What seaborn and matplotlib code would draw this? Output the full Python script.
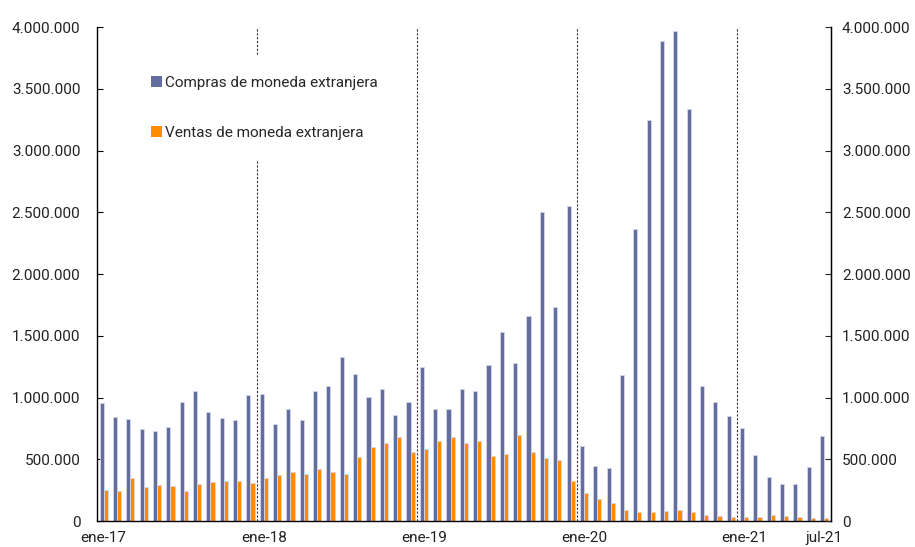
import pandas as pd
import matplotlib
matplotlib.use("Agg")
import matplotlib.pyplot as plt
import seaborn as sns
from matplotlib.ticker import FuncFormatter, MultipleLocator

# Monthly data, ene-17 .. jul-21
meses_abr = ["ene", "feb", "mar", "abr", "may", "jun", "jul", "ago", "sep", "oct", "nov", "dic"]
meses = [f"{m}-{a}" for a in range(17, 22) for m in meses_abr][:55]

compras = [955000, 845000, 823000, 742000, 729000, 761000, 964000, 1053000, 880000, 837000, 815000, 1020000,
           1028000, 785000, 904000, 818000, 1055000, 1090000, 1328000, 1188000, 1001000, 1066000, 856000, 964000,
           1251000, 904000, 904000, 1066000, 1053000, 1263000, 1528000, 1277000, 1660000, 2502000, 1736000, 2548000,
           611000, 444000, 428000, 1179000, 2361000, 3247000, 3887000, 3966000, 3337000, 1091000, 963000, 848000,
           750000, 532000, 359000, 302000, 300000, 440000, 686000]
ventas = [251000, 243000, 346000, 273000, 291000, 281000, 246000, 300000, 313000, 324000, 324000, 308000,
          346000, 371000, 399000, 383000, 424000, 394000, 378000, 518000, 602000, 629000, 678000, 559000,
          586000, 648000, 680000, 632000, 645000, 529000, 543000, 694000, 556000, 513000, 494000, 324000,
          228000, 180000, 144000, 87000, 71000, 71000, 79000, 87000, 76000, 48000, 40000, 35000,
          35000, 32000, 49000, 38000, 32000, 27000, 24000]

label_compras = "Compras de moneda extranjera"
label_ventas = "Ventas de moneda extranjera"
tick_meses = ["ene-17", "ene-18", "ene-19", "ene-20", "ene-21", "jul-21"]

df = pd.DataFrame({"Mes": meses, label_compras: compras, label_ventas: ventas})
df_long = df.melt(id_vars="Mes", var_name="Serie", value_name="Monto")

sns.set_style("white")
plt.rcParams["font.family"] = ["Roboto", "DejaVu Sans"]

fig = plt.figure(figsize=(9.15, 5.47), dpi=100)
ax = fig.add_axes([0.106, 0.0475, 0.802, 0.9031])

sns.barplot(data=df_long, x="Mes", y="Monto", hue="Serie", order=meses,
            palette=["#646E9E", "#FF8C00"], saturation=1, width=0.62, gap=0,
            edgecolor="#D3D7EA", linewidth=0.6, ax=ax)

ax.set_xlim(-0.5, len(meses) - 0.5)
ax.set_ylim(0, 4000000)

fmt = FuncFormatter(lambda v, p: f"{v:,.0f}".replace(",", "."))
ax.yaxis.set_major_locator(MultipleLocator(500000))
ax.yaxis.set_major_formatter(fmt)

pos = [meses.index(m) for m in tick_meses]
ax.set_xticks(pos)
ax.set_xticklabels(tick_meses)
ax.set_xlabel("")
ax.set_ylabel("")
ax.tick_params(axis="x", length=0, labelsize=11, pad=7, colors="#222222")
ax.tick_params(axis="y", direction="in", length=4, width=0.8, labelsize=11, pad=12,
               colors="black", labelcolor="#222222")

# year separators
for i in range(12, len(meses), 12):
    ax.axvline(i - 0.5, color="#333333", linestyle=(0, (2, 1.5)), linewidth=0.8, zorder=0)

ax.spines["top"].set_visible(False)
for s in ["left", "bottom", "right"]:
    ax.spines[s].set_color("black")
    ax.spines[s].set_linewidth(1.0)

ax2 = ax.twinx()
ax2.set_ylim(ax.get_ylim())
ax2.yaxis.set_major_locator(MultipleLocator(500000))
ax2.yaxis.set_major_formatter(fmt)
ax2.tick_params(axis="y", direction="in", length=4, width=0.8, labelsize=11, pad=8, labelcolor="#222222")
for s in ["top", "left", "bottom"]:
    ax2.spines[s].set_visible(False)
ax2.spines["right"].set_color("black")

leg = ax.legend(loc="upper left", bbox_to_anchor=(0.045, 0.944), frameon=True, facecolor="white",
                edgecolor="none", framealpha=1, fontsize=11, handlelength=0.7, handleheight=0.7,
                handletextpad=0.2, labelspacing=2.35, borderpad=1.4, borderaxespad=0)
leg.get_frame().set_linewidth(0)
for h in leg.legend_handles:
    h.set_edgecolor("none")

fig.savefig("out.png", dpi=100)
